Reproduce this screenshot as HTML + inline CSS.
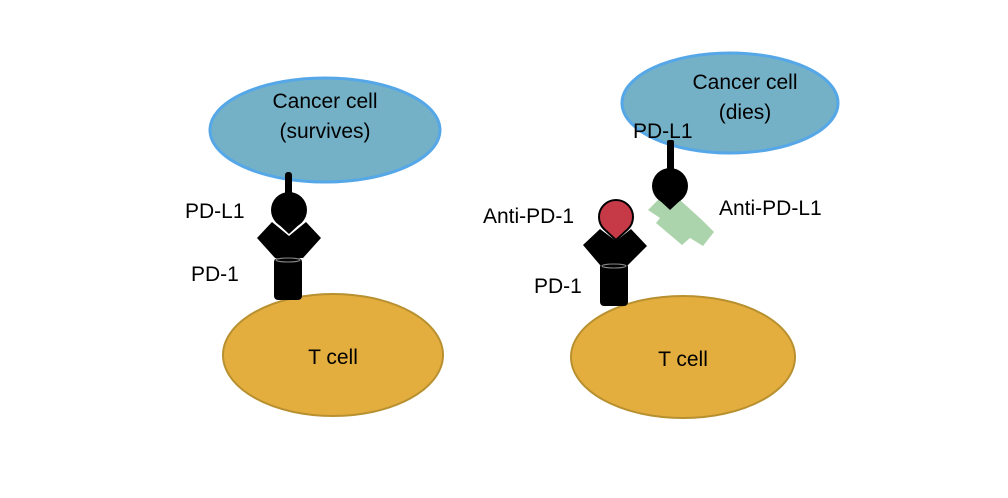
<!DOCTYPE html>
<html><head><style>html,body{margin:0;padding:0;background:#fff}svg{display:block}svg text{font-family:'Liberation Sans',Arial,Helvetica,sans-serif;font-size:21px}</style></head>
<body>
<svg width="1008" height="498" viewBox="0 0 1008 498" xmlns="http://www.w3.org/2000/svg">
<rect width="1008" height="498" fill="#fff"/>
<ellipse cx="325" cy="130" rx="115" ry="52" fill="#74b1c6" stroke="#55a7e8" stroke-width="3"/>
<text x="325" y="108" text-anchor="middle">Cancer cell</text>
<text x="325" y="138" text-anchor="middle">(survives)</text>
<ellipse cx="333" cy="355" rx="110" ry="61" fill="#e3ae3e" stroke="#b8902f" stroke-width="2"/>
<text x="333" y="364" text-anchor="middle">T cell</text>
<rect x="285" y="172" width="7" height="24" rx="3" fill="#000"/>
<polygon points="257,238 272,222 289,236 306,222 321,238 303,258 275,258" fill="#000"/>
<circle cx="289" cy="210" r="18" fill="#000"/>
<polygon points="275,221 303,221 289,234" fill="#000"/>
<rect x="274" y="258" width="28" height="42" rx="4" fill="#000"/>
<ellipse cx="288" cy="260" rx="12" ry="2" fill="none" stroke="#888" stroke-width="1"/>
<text x="185" y="218">PD-L1</text>
<text x="191" y="281">PD-1</text>
<ellipse cx="730" cy="103" rx="108" ry="50" fill="#74b1c6" stroke="#55a7e8" stroke-width="3"/>
<text x="745" y="89" text-anchor="middle">Cancer cell</text>
<text x="745" y="119" text-anchor="middle">(dies)</text>
<ellipse cx="683" cy="357" rx="112" ry="61" fill="#e3ae3e" stroke="#b8902f" stroke-width="2"/>
<text x="683" y="366" text-anchor="middle">T cell</text>
<polygon points="648,210 659,199 680,200 702,220 714,232 703,246 690,238 682,245 656,223 660,218" fill="#acd4ac"/>
<rect x="667" y="140" width="7" height="38" rx="2" fill="#000"/>
<circle cx="670" cy="186" r="18" fill="#000"/>
<polygon points="656,197 684,197 670,210" fill="#000"/>
<polygon points="583,245 600,229 616,241 631,229 647,246 628,265 600,265" fill="#000"/>
<rect x="600" y="263" width="28" height="43" rx="4" fill="#000"/>
<ellipse cx="614" cy="266" rx="12" ry="2" fill="none" stroke="#888" stroke-width="1"/>
<path d="M616,240 L604,229 A17,17 0 1 1 628,229 Z" fill="#c63a48" stroke="#000" stroke-width="2"/>
<text x="633" y="138">PD-L1</text>
<text x="483" y="223">Anti-PD-1</text>
<text x="534" y="293">PD-1</text>
<text x="719" y="215">Anti-PD-L1</text>
</svg>
</body></html>
